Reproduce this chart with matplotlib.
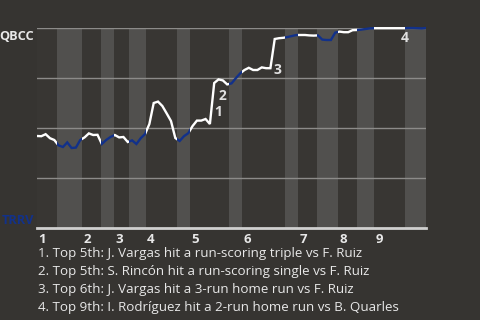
import matplotlib
matplotlib.use("Agg")
import matplotlib.pyplot as plt
from matplotlib.patches import Rectangle
from matplotlib.transforms import blended_transform_factory

# QBCC win probability (%) after each play
wp = [46, 45.9, 46.9, 44.9, 44, 41.3, 40.5, 42.8, 40, 40.2,
      44, 45.3, 47.3, 46.5, 46.6, 42, 44, 45.5, 46.5, 45.3,
      45.5, 43, 43.8, 42, 44.9, 47, 52, 62.5, 63.2, 61,
      57.3, 53.5, 45, 43.5, 45.9, 47.4, 51, 53.7, 53.7, 54.5,
      52, 72.5, 74.3, 73.8, 71.8, 72.3, 74.9, 77.3, 79, 80.1,
      79, 79, 80.3, 79.9, 79.9, 94.5, 94.9, 95.1, 95.5, 96,
      96.5, 96.5, 96.5, 96.3, 96.2, 96.3, 94.2, 94, 94, 97.7,
      98.2, 97.9, 97.9, 98.9, 99, 99.2, 99.5, 99.8, 99.9, 99.9,
      99.9, 99.9, 99.9, 99.9, 99.9, 99.9, 100, 100, 99.9, 99.8,
      100]

# Half-inning boundaries in play units (top 1st, bottom 1st, ..., bottom 9th)
half_inning_edges = [0, 4.6, 10.4, 14.8, 17.8, 21.3, 25.2, 32.4, 35.4, 44.4,
                     47.4, 57.4, 60.4, 64.8, 69.6, 74.0, 78.0, 85.2, 90]
innings = ["1", "2", "3", "4", "5", "6", "7", "8", "9"]

# Key plays: label, play index
key_labels = ["1", "2", "3", "4"]
key_plays = [40, 41, 55, 85]
key_notes = [
    "1. Top 5th: J. Vargas hit a run-scoring triple vs F. Ruiz",
    "2. Top 5th: S. Rincón hit a run-scoring single vs F. Ruiz",
    "3. Top 6th: J. Vargas hit a 3-run home run vs F. Ruiz",
    "4. Top 9th: I. Rodríguez hit a 2-run home run vs B. Quarles",
]
away_team, home_team = "QBCC", "TRRV"

BG = "#363431"
TOP_BAND = "#383633"
BOTTOM_BAND = "#51504e"
AWAY_COLOR = "#ffffff"
HOME_COLOR = "#12318a"
TEXT = "#e8e8e8"

plt.rcParams["font.family"] = ["Open Sans", "DejaVu Sans"]

fig = plt.figure(figsize=(4.8, 3.2), dpi=100, facecolor=BG)
ax = fig.add_axes([37 / 480, 92 / 320, 389 / 480, 200 / 320], facecolor=BG)
ax.set_xlim(0, half_inning_edges[-1])
ax.set_ylim(0, 100)
for s in ax.spines.values():
    s.set_visible(False)
ax.set_xticks([])
ax.set_yticks([])

x = list(range(len(wp)))
for k in range(len(half_inning_edges) - 1):
    x0, x1 = half_inning_edges[k], half_inning_edges[k + 1]
    top_half = (k % 2 == 0)
    band = Rectangle((x0, 0), x1 - x0, 100,
                     facecolor=TOP_BAND if top_half else BOTTOM_BAND,
                     edgecolor="none", zorder=0)
    ax.add_patch(band)
    clip = Rectangle((x0, -5), x1 - x0, 110, transform=ax.transData,
                     facecolor="none", edgecolor="none")
    line, = ax.plot(x, wp, color=AWAY_COLOR if top_half else HOME_COLOR,
                    lw=1.7, zorder=3, solid_joinstyle="miter")
    line.set_clip_path(clip)

for yv in (25, 50, 75, 100):
    ax.axhline(yv, color="#8c8b89", lw=1.0, zorder=1)
ax.axhline(0, color="#cfcfcf", lw=2.0, zorder=2, clip_on=False)

# Inning numbers under the axis, at the start of each top half
trans = blended_transform_factory(ax.transData, ax.transAxes)
for i, lab in enumerate(innings):
    ax.text(half_inning_edges[2 * i] + 0.3, -0.025, lab, transform=trans,
            ha="left", va="top", color=TEXT, fontsize=9.5, fontweight="bold")

# Team labels
ax.text(-0.008, 0.96, away_team, transform=ax.transAxes, ha="right", va="center",
        color=TEXT, fontsize=9.2, fontweight="bold")
ax.text(-0.008, 0.04, home_team, transform=ax.transAxes, ha="right", va="center",
        color=HOME_COLOR, fontsize=9.2, fontweight="bold")

# Key play markers
offsets = [(6, 9), (6, -9), (2, -22), (0, -7)]
for lab, p, off in zip(key_labels, key_plays, offsets):
    ax.annotate(lab, (p, wp[p]), xytext=off, textcoords="offset points",
                ha="center", va="center", color="#e0e0e0", fontsize=10,
                fontweight="bold", zorder=5)

# Key play descriptions
for j, note in enumerate(key_notes):
    fig.text(38 / 480, 1 - (254 + 18 * j) / 320, note, ha="left", va="center",
             color=TEXT, fontsize=9.6)

fig.savefig("out.png", dpi=100, facecolor=BG)
